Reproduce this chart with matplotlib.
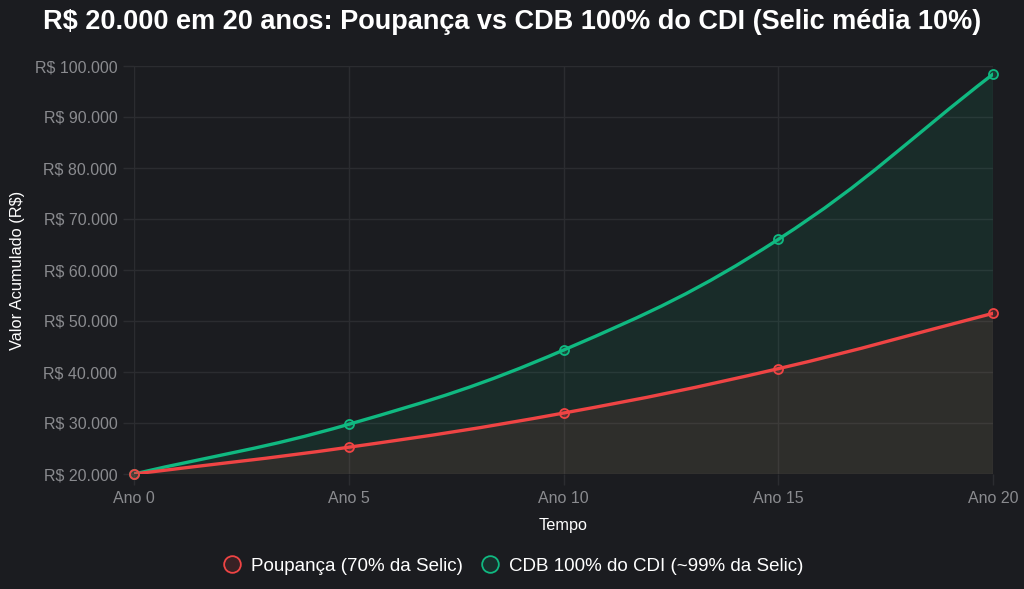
import matplotlib
matplotlib.use("Agg")
import matplotlib.pyplot as plt
from matplotlib.path import Path
from matplotlib.patches import PathPatch
from matplotlib.lines import Line2D
import numpy as np

plt.rcParams['font.family'] = ['Liberation Sans', 'DejaVu Sans']

anos = [0, 5, 10, 15, 20]
tick_labels = ["Ano 0", "Ano 5", "Ano 10", "Ano 15", "Ano 20"]
poupanca = [20000, 25250, 31950, 40650, 51500]
cdb = [20000, 29750, 44300, 66000, 98400]
y_ticks = [20000, 30000, 40000, 50000, 60000, 70000, 80000, 90000, 100000]

BG = "#1b1c20"
GRID = "#2b2c30"
RED = "#ef4444"
GREEN = "#10b981"

W, H = 1024, 589
fig = plt.figure(figsize=(W/100, H/100), dpi=100, facecolor=BG)
ax = fig.add_axes([134/W, 1-474/H, (993-134)/W, (474-66)/H])
ax.set_facecolor(BG)
ax.set_xlim(0, 20)
ax.set_ylim(20000, 100000)

def fmt(v):
    return "R$ " + f"{v:,.0f}".replace(",", ".")

ax.set_yticks(y_ticks)
ax.set_yticklabels([fmt(v) for v in y_ticks])
ax.set_xticks(anos)
ax.set_xticklabels(tick_labels)
ax.grid(True, color=GRID, linewidth=1)
ax.tick_params(colors=GRID, labelcolor="#8a8b8f", labelsize=11.5, length=8, width=1, pad=4)
for s in ax.spines.values():
    s.set_visible(False)
ax.set_axisbelow(True)

ax.set_xlabel("Tempo", color="white", fontsize=11.7, labelpad=9)
ax.set_ylabel("Valor Acumulado (R$)", color="white", fontsize=11.8, labelpad=7)
fig.text(0.5, 1-22/H, "R$ 20.000 em 20 anos: Poupança vs CDB 100% do CDI (Selic média 10%)",
         ha="center", va="center", color="white", fontsize=19.5, fontweight="bold")

def spline_path(xs, ys, tension=0.4, close_to=None):
    T = ax.transData
    pts = T.transform(np.column_stack([xs, ys]))
    n = len(pts)
    ctrl_prev = [None]*n
    ctrl_next = [None]*n
    for i in range(n):
        prev = pts[i-1] if i > 0 else pts[i]
        nxt = pts[i+1] if i < n-1 else pts[i]
        cur = pts[i]
        d01 = np.hypot(*(cur-prev))
        d12 = np.hypot(*(nxt-cur))
        tot = d01 + d12
        s01 = d01/tot if tot else 0
        s12 = d12/tot if tot else 0
        fa = tension*s01
        fb = tension*s12
        ctrl_prev[i] = cur - fa*(nxt-prev)
        ctrl_next[i] = cur + fb*(nxt-prev)
    verts = [pts[0]]
    codes = [Path.MOVETO]
    for i in range(n-1):
        verts += [ctrl_next[i], ctrl_prev[i+1], pts[i+1]]
        codes += [Path.CURVE4]*3
    inv = T.inverted()
    verts = inv.transform(np.array(verts))
    if close_to is not None:
        verts = np.vstack([verts, [[xs[-1], close_to], [xs[0], close_to], verts[0]]])
        codes = codes + [Path.LINETO, Path.LINETO, Path.CLOSEPOLY]
    return Path(verts, codes)

for series, color in [(cdb, GREEN), (poupanca, RED)]:
    ax.add_patch(PathPatch(spline_path(anos, series, close_to=20000), facecolor=color,
                           alpha=0.1, edgecolor="none", zorder=1))
for series, color in [(cdb, GREEN), (poupanca, RED)]:
    ax.add_patch(PathPatch(spline_path(anos, series), facecolor="none", edgecolor=color,
                           linewidth=2.4, zorder=3, capstyle="round", joinstyle="round"))
    ax.plot(anos, series, linestyle="none", marker="o", markersize=6.5,
            markerfacecolor=color + "33", markeredgecolor=color, markeredgewidth=1.3,
            zorder=4, clip_on=False)

handles = [Line2D([], [], linestyle="none", marker="o", markersize=12,
                  markerfacecolor=RED + "22", markeredgecolor=RED, markeredgewidth=1.3,
                  label="Poupança (70% da Selic)"),
           Line2D([], [], linestyle="none", marker="o", markersize=12,
                  markerfacecolor=GREEN + "22", markeredgecolor=GREEN, markeredgewidth=1.3,
                  label="CDB 100% do CDI (~99% da Selic)")]
fig.legend(handles=handles, loc="center", bbox_to_anchor=(0.5, 1-566/H), ncol=2,
           frameon=False, fontsize=13.5, labelcolor="white", handletextpad=0.45,
           columnspacing=0.8, handlelength=1.2)

fig.savefig("out.png", dpi=100, facecolor=BG)
